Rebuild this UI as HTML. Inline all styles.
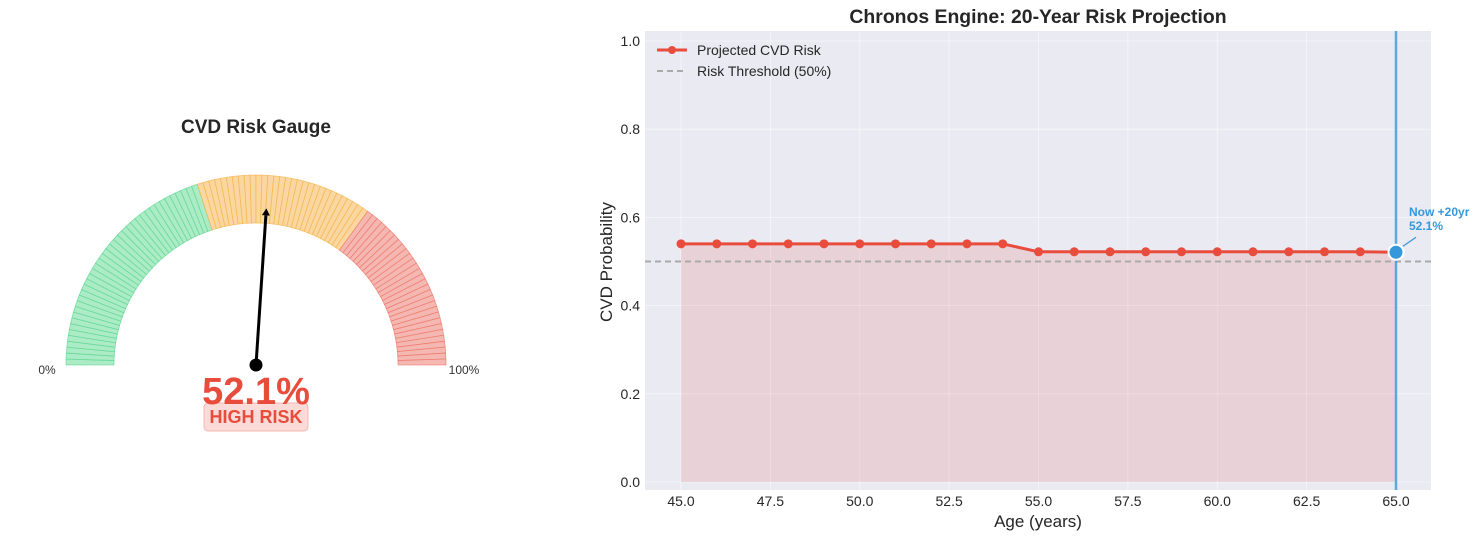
<!DOCTYPE html>
<html><head><meta charset="utf-8"><style>
body{margin:0;background:#fff;font-family:"Liberation Sans",sans-serif;}
svg{display:block}
</style></head><body>
<svg id="s" width="1482" height="540" xmlns="http://www.w3.org/2000/svg" font-family="Liberation Sans, sans-serif">
<g id="gauge">
<text x="256" y="133" text-anchor="middle" font-size="19" font-weight="bold" fill="#262626">CVD Risk Gauge</text>
<g id="segs"></g>
<text x="47" y="374" text-anchor="middle" font-size="12" fill="#333">0%</text>
<text x="464" y="374" text-anchor="middle" font-size="12" fill="#333">100%</text>
<g id="needle"></g>
<rect x="204" y="403" width="104" height="28" rx="4" fill="#fadbd8" stroke="#f5b7b1"/>
<text id="bigval" x="256" y="404" text-anchor="middle" font-size="38" font-weight="bold" fill="#e74c3c">52.1%</text>
<text x="256" y="423" text-anchor="middle" font-size="18" font-weight="bold" fill="#e74c3c">HIGH RISK</text>
</g>
<g id="chart">
<text x="1038" y="23" text-anchor="middle" font-size="19.4" font-weight="bold" fill="#262626">Chronos Engine: 20-Year Risk Projection</text>
<rect x="645" y="31" width="786" height="459" fill="#eaeaf2"/>
<g id="grid"></g>
<g id="marks"></g>
<g id="axes"></g>
<text x="1038" y="527" text-anchor="middle" font-size="17" fill="#262626">Age (years)</text>
<text transform="translate(612,262) rotate(-90)" text-anchor="middle" font-size="17" fill="#262626">CVD Probability</text>
<g>
<g><line x1="657" y1="50" x2="687" y2="50" stroke="#e74c3c" stroke-width="3"/><circle cx="672" cy="50" r="4" fill="#e74c3c"/><text x="697" y="55" font-size="14" fill="#262626">Projected CVD Risk</text></g>
<g><line x1="657" y1="71" x2="687" y2="71" stroke="#aaa" stroke-width="2" stroke-dasharray="6,4"/><text x="697" y="76" font-size="14" fill="#262626">Risk Threshold (50%)</text></g>
</g>
</g>
</svg>
<script>
const ages=[45,46,47,48,49,50,51,52,53,54,55,56,57,58,59,60,61,62,63,64,65];
const risk=[0.54,0.54,0.54,0.54,0.54,0.54,0.54,0.54,0.54,0.54,0.522,0.522,0.522,0.522,0.522,0.522,0.522,0.522,0.522,0.522,0.521];
const xTicks=[45,47.5,50,52.5,55,57.5,60,62.5,65];
const xTickLabels=["45.0","47.5","50.0","52.5","55.0","57.5","60.0","62.5","65.0"];
const yTicks=[0,0.2,0.4,0.6,0.8,1.0];
const yTickLabels=["0.0","0.2","0.4","0.6","0.8","1.0"];
const threshold=[0.5];
const gaugeValue=[52.1];
const gaugeZones=[40,70,100];
const NS="http://www.w3.org/2000/svg";
function mk(t,a,p){const e=document.createElementNS(NS,t);for(const k in a)e.setAttribute(k,a[k]);p.appendChild(e);return e;}
const X=v=>681+(v-45)*35.75, Y=v=>482-v*441;
const grid=document.getElementById('grid'),axes=document.getElementById('axes'),marks=document.getElementById('marks');
xTicks.forEach((t,i)=>{const l=mk('line',{x1:X(t),x2:X(t),y1:31,y2:490,stroke:'#fff','stroke-width':0.8,'stroke-opacity':0.6},grid);

const tx=mk('text',{x:X(t),y:506,'text-anchor':'middle','font-size':14,fill:'#262626'},axes);tx.textContent=xTickLabels[i];
});
yTicks.forEach((t,i)=>{const l=mk('line',{x1:645,x2:1431,y1:Y(t),y2:Y(t),stroke:'#fff','stroke-width':0.8,'stroke-opacity':0.6},grid);

const tx=mk('text',{x:640,y:Y(t)+5,'text-anchor':'end','font-size':14,fill:'#262626'},axes);tx.textContent=yTickLabels[i];
});
let pts=ages.map((a,i)=>X(a)+','+Y(risk[i]));
const area=mk('polygon',{points:X(ages[0])+','+Y(0)+' '+pts.join(' ')+' '+X(ages[ages.length-1])+','+Y(0),fill:'#e74c3c','fill-opacity':0.15},marks);

const th=mk('line',{x1:645,x2:1431,y1:Y(threshold[0]),y2:Y(threshold[0]),stroke:'#aaa','stroke-width':2,'stroke-dasharray':'6,4'},marks);

const ln=mk('polyline',{points:pts.join(' '),fill:'none',stroke:'#e74c3c','stroke-width':3},marks);

ages.forEach((a,i)=>{if(i==ages.length-1)return;const c=mk('circle',{cx:X(a),cy:Y(risk[i]),r:4.5,fill:'#e74c3c'},marks);
});
const last=ages.length-1;
const vl=mk('line',{x1:X(ages[last]),x2:X(ages[last]),y1:31,y2:490,stroke:'#3498db','stroke-width':2.5,'stroke-opacity':0.8},marks);

const nc=mk('circle',{cx:X(ages[last]),cy:Y(risk[last]),r:7.5,fill:'#3498db',stroke:'#fff','stroke-width':2},marks);

const al=mk('line',{x1:X(ages[last])+7,y1:Y(risk[last])-6,x2:X(ages[last])+20,y2:Y(risk[last])-15,stroke:'#3498db','stroke-width':1.2},marks);

const at=mk('text',{x:X(ages[last])+13,y:Y(risk[last])-36,'font-size':12,'font-weight':'bold',fill:'#3498db'},marks);

at.innerHTML='<tspan x="'+(X(ages[last])+13)+'">Now +20yr</tspan><tspan x="'+(X(ages[last])+13)+'" dy="14">'+(risk[last]*100).toFixed(1)+'%</tspan>';
// gauge
const cx=256,cy=365,R=190,r=142,segs=document.getElementById('segs');
const N=100;
for(let k=0;k<N;k++){const f0=k/N*100,f1=(k+1)/N*100;
const z=f0<gaugeZones[0]?0:f0<gaugeZones[1]?1:2;
const fill=['#abebc6','#fad7a0','#f5b7b1'][z],st=['#58d68d','#f5b041','#ec7063'][z];
const a0=Math.PI*(1-f0/100),a1=Math.PI*(1-f1/100);
const p=`M${cx+R*Math.cos(a0)},${cy-R*Math.sin(a0)} A${R},${R} 0 0 1 ${cx+R*Math.cos(a1)},${cy-R*Math.sin(a1)} L${cx+r*Math.cos(a1)},${cy-r*Math.sin(a1)} A${r},${r} 0 0 0 ${cx+r*Math.cos(a0)},${cy-r*Math.sin(a0)} Z`;
const s=mk('path',{d:p,fill:fill,stroke:st,'stroke-width':0.8,'stroke-opacity':0.7},segs);
}
const nd=document.getElementById('needle');const ang=Math.PI*(1-gaugeValue[0]/100),L=150;
const tx=cx+L*Math.cos(ang),ty=cy-L*Math.sin(ang);
const nl=mk('line',{x1:cx,y1:cy,x2:tx,y2:ty,stroke:'#000','stroke-width':3},nd);

const ux=Math.cos(ang),uy=-Math.sin(ang),hx=cx+(L+7)*ux,hy=cy+(L+7)*uy;
const ah=mk('polygon',{points:`${hx},${hy} ${tx-4*uy},${ty+4*ux} ${tx+4*uy},${ty-4*ux}`,fill:'#000'},nd);

const hub=mk('circle',{cx:cx,cy:cy,r:6.5,fill:'#000'},nd);

document.getElementById('bigval').textContent=gaugeValue[0].toFixed(1)+'%';
</script>
</body></html>
